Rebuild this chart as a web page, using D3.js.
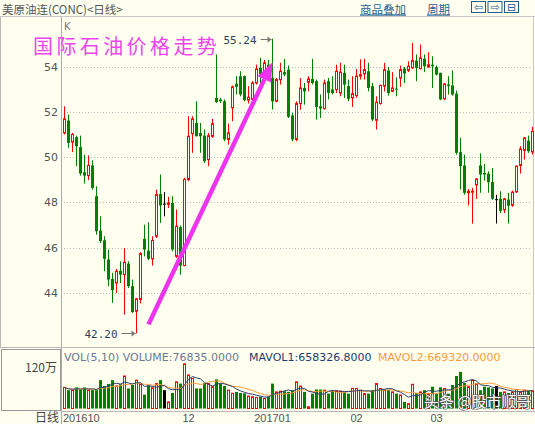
<!DOCTYPE html>
<html>
<head>
<meta charset="utf-8">
<script src="https://cdn.jsdelivr.net/npm/d3@7/dist/d3.min.js"></script>
<style>
body { margin: 0; background: #fffff0; }
svg { display: block; }
</style>
</head>
<body>
<svg width="535" height="424"></svg>
<script>
// daily bars (美原油连 CONC)
var opens = [51.07,51.62,50.66,50.88,50.44,49.33,49.18,49.63,48.27,46.75,46.32,45.47,44.61,44.43,44.96,44.80,45.29,44.29,43.18,43.70,
  46.38,45.86,45.50,46.50,48.37,47.94,47.91,47.97,45.61,46.90,45.20,49.01,51.04,51.51,51.07,50.95,49.89,50.92,52.62,52.55,
  52.47,50.78,52.18,53.25,53.58,53.58,52.52,52.55,53.28,53.95,53.65,54.09,53.50,52.47,53.43,53.76,53.87,51.84,50.78,52.37,
  53.06,53.31,53.46,53.36,52.25,52.15,53.36,52.99,52.99,52.84,53.73,53.14,52.62,52.72,53.58,53.68,53.80,53.14,51.63,52.37,
  53.14,53.83,52.91,53.03,53.50,53.92,53.84,53.95,54.27,53.92,54.35,53.99,54.09,53.98,53.73,52.58,53.21,53.17,52.81,50.22,
  49.63,48.42,48.45,48.77,49.63,49.30,49.27,48.90,48.14,48.16,47.67,48.12,47.87,48.46,49.63,50.30,50.73,50.23];
var highs = [52.25,51.88,51.07,50.95,50.95,50.11,50.07,49.86,48.71,47.38,46.50,45.91,44.88,45.05,45.39,45.98,45.39,44.58,43.77,45.79,
  47.01,47.12,46.50,48.56,49.23,48.45,48.24,48.27,47.68,46.97,49.08,51.81,51.81,52.47,51.51,51.22,51.07,51.69,54.54,52.62,
  52.55,51.48,53.17,53.58,53.80,53.61,53.14,53.36,54.09,54.39,54.30,54.30,55.24,53.50,54.17,54.35,54.05,51.96,52.47,53.50,
  53.28,53.58,54.35,53.43,52.77,53.43,53.50,53.58,54.09,54.17,54.09,53.43,53.58,53.90,54.32,54.35,54.17,53.28,52.69,53.21,
  54.17,53.99,53.76,53.53,54.05,53.99,54.24,55.05,54.54,54.98,54.54,54.64,54.46,54.05,53.73,53.28,53.58,53.84,52.94,50.85,
  50.11,48.59,48.64,49.07,50.16,49.70,49.37,49.52,48.33,48.49,48.19,48.42,48.52,49.63,50.48,50.89,50.95,51.34];
var lows = [51.00,50.41,50.22,49.60,49.18,48.83,48.98,48.56,46.57,46.20,44.95,44.29,43.55,43.99,44.43,43.03,44.21,43.11,42.20,43.52,
  45.61,45.44,45.20,46.42,47.09,47.38,47.75,45.83,45.54,44.80,45.17,48.93,50.19,50.92,50.19,49.74,49.60,50.85,52.40,52.40,
  50.70,50.55,51.59,52.77,52.69,52.47,52.37,52.47,53.21,53.21,53.50,53.40,52.10,52.43,53.21,53.58,51.73,50.70,50.70,52.10,
  52.32,52.91,53.21,51.66,51.73,52.10,52.55,52.77,52.84,52.69,52.62,52.47,52.22,52.62,53.43,53.43,52.91,51.59,51.22,52.32,
  52.91,52.72,52.87,52.69,53.11,53.28,53.76,53.90,53.36,53.87,53.76,53.95,53.06,53.61,52.52,52.52,52.77,52.72,50.11,48.56,
  48.34,47.86,47.06,48.15,48.42,48.96,48.42,48.11,47.06,47.52,47.52,47.06,47.80,48.42,49.27,49.89,50.19,50.11];
var closes = [51.69,50.63,51.00,50.48,49.27,49.18,49.63,48.64,46.72,46.28,45.50,44.58,44.11,44.95,44.80,45.35,44.29,43.14,43.73,45.73,
  45.91,45.50,46.31,48.34,47.86,47.94,47.97,45.91,46.94,45.20,49.01,50.92,51.69,50.92,50.92,49.82,50.95,51.48,52.43,52.47,
  50.78,51.07,53.11,53.11,52.77,52.52,52.65,53.28,53.90,53.65,54.17,53.58,52.47,53.43,53.80,53.65,51.78,50.78,52.37,53.06,
  52.91,53.46,53.28,52.22,52.15,53.28,52.84,52.84,53.80,53.76,53.21,52.58,52.81,53.58,53.65,53.87,53.06,51.66,52.43,53.17,
  53.87,52.84,53.06,53.00,53.87,53.70,54.02,54.27,53.95,54.39,54.02,54.09,54.02,53.65,52.55,53.24,53.14,52.77,50.19,49.60,
  48.42,48.49,48.49,49.03,49.23,49.23,48.89,48.16,48.14,47.62,48.15,47.85,48.45,49.60,50.36,50.85,50.26,51.14];
// volume in 万手
var volumes = [61,53,53,61,55,61,53,53,53,82,65,71,82,65,70,94,58,68,82,70,
  40,67,60,72,82,53,19,45,77,72,129,97,87,58,58,74,72,63,84,72,
  65,53,44,48,45,44,36,34,32,34,29,35,72,48,50,50,48,53,77,65,
  48,5,43,55,55,53,43,53,51,50,48,43,58,58,53,43,43,53,72,58,
  53,53,48,43,39,19,14,70,45,48,53,43,63,43,61,58,43,68,94,106,
  74,63,82,72,53,63,61,58,65,48,48,45,48,55,48,53,51,51];

var priceTicks = [44, 46, 48, 50, 52, 54];
var monthStart = [0, 31, 52, 73, 93];
var monthLabels = ["201610", "12", "201701", "02", "03"];

var bg = "#fffff0";
var upColor = "#ff0000", downColor = "#008000";
var svg = d3.select("svg");
var n = closes.length;

var x = d3.scaleBand().domain(d3.range(n)).range([62, 62 + 4 * n]);
function cx(i) { return Math.round(x(i) + x.bandwidth() / 2) + 0.5; }
var y = d3.scaleLinear().domain([44, 54]).range([292.7, 66.7]);
var yv = d3.scaleLinear().domain([0, 120]).range([408.5, 367]);
function crisp(v) { return Math.round(v) + 0.5; }

svg.append("rect").attr("width", 535).attr("height", 424).attr("fill", bg);

// header
svg.append("text").attr("x", 2).attr("y", 13.5)
  .attr("font-family", "Noto Sans CJK SC").attr("font-size", 11.5).attr("fill", "#555")
  .text("美原油连(CONC)<日线>");
[["商品叠加", 360], ["周期", 427]].forEach(function (d) {
  svg.append("text").attr("x", d[1]).attr("y", 13.5)
    .attr("font-family", "Noto Sans CJK SC").attr("font-size", 11.5).attr("fill", "#1f5f8f")
    .attr("text-decoration", "underline").text(d[0]);
});
["⇦", "⇨", "⊟"].forEach(function (g, k) {
  var bx = 471.5 + k * 16.5;
  svg.append("rect").attr("x", bx).attr("y", 1.5).attr("width", 14).attr("height", 11)
    .attr("fill", "none").attr("stroke", "#1f5f8f");
  svg.append("text").attr("x", bx + 7).attr("y", 11).attr("text-anchor", "middle")
    .attr("font-family", "DejaVu Sans").attr("font-size", 11).attr("fill", "#1f5f8f").text(g);
});

// frame lines
svg.append("line").attr("x1", 0).attr("x2", 535).attr("y1", 16.5).attr("y2", 16.5).attr("stroke", "#c8c8c8");
svg.append("line").attr("x1", 0.5).attr("x2", 0.5).attr("y1", 17).attr("y2", 348).attr("stroke", "#b8b8b8");
svg.append("line").attr("x1", 61.5).attr("x2", 61.5).attr("y1", 17).attr("y2", 424).attr("stroke", "#aaa");
svg.append("line").attr("x1", 533.5).attr("x2", 533.5).attr("y1", 17).attr("y2", 412).attr("stroke", "#c8c8c8");
svg.append("line").attr("x1", 0).attr("x2", 535).attr("y1", 347.5).attr("y2", 347.5).attr("stroke", "#b8b8b8");
svg.append("line").attr("x1", 62).attr("x2", 535).attr("y1", 411.5).attr("y2", 411.5).attr("stroke", "#b8b8b8");
svg.append("rect").attr("x", 1.5).attr("y", 349.5).attr("width", 59).attr("height", 61)
  .attr("fill", "none").attr("stroke", "#999");

svg.append("text").attr("x", 64).attr("y", 30).attr("font-family", "DejaVu Sans")
  .attr("font-size", 10).attr("fill", "#777").text("K");

// price grid + labels
svg.append("g").selectAll("line").data(priceTicks).enter().append("line")
  .attr("x1", 64).attr("x2", 532)
  .attr("y1", function (d) { return crisp(y(d)); }).attr("y2", function (d) { return crisp(y(d)); })
  .attr("stroke", "#bbb").attr("stroke-dasharray", "1,2");
svg.append("g").selectAll("text").data(priceTicks).enter().append("text")
  .attr("x", 58).attr("y", function (d) { return y(d) + 4; })
  .attr("text-anchor", "end").attr("font-family", "DejaVu Sans").attr("font-size", 11)
  .attr("fill", "#555").text(function (d) { return d; });

function barColor(i) {
  if (closes[i] > opens[i]) return upColor;
  if (closes[i] < opens[i]) return downColor;
  return "#000";
}

// candles
var candle = svg.append("g").selectAll("g").data(d3.range(n)).enter().append("g");
candle.append("line")
  .attr("x1", cx).attr("x2", cx)
  .attr("y1", function (i) { return y(highs[i]); })
  .attr("y2", function (i) { return y(lows[i]); })
  .attr("stroke", barColor);
candle.append("rect")
  .attr("x", function (i) { return closes[i] > opens[i] ? cx(i) - 1 : cx(i) - 1.5; })
  .attr("width", function (i) { return closes[i] > opens[i] ? 2 : 3; })
  .attr("y", function (i) { return y(Math.max(opens[i], closes[i])); })
  .attr("height", function (i) { return Math.max(1, Math.abs(y(opens[i]) - y(closes[i]))); })
  .attr("fill", function (i) { return closes[i] > opens[i] ? bg : barColor(i); })
  .attr("stroke", function (i) { return closes[i] > opens[i] ? upColor : "none"; });

// high / low markers
var iHi = d3.maxIndex(highs), iLo = d3.minIndex(lows);
function marker(i, v, tx) {
  var yy = crisp(y(v));
  svg.append("text").attr("x", tx).attr("y", yy + 4)
    .attr("font-family", "DejaVu Sans Mono").attr("font-size", 11).attr("fill", "#2a3f5f")
    .text(v.toFixed(2));
  svg.append("line").attr("x1", tx + 37).attr("x2", cx(i) - 1).attr("y1", yy).attr("y2", yy).attr("stroke", "#777");
  svg.append("path").attr("d", "M" + (cx(i) - 1) + "," + yy + "l-4,-3v6z").attr("fill", "#777");
}
marker(iHi, highs[iHi], cx(iHi) - 49);
marker(iLo, lows[iLo], cx(iLo) - 52);

// magenta trend arrow
var ax0 = cx(21), ay0 = y(42.6), ax1 = cx(52), ay1 = y(54.2);
var ang = Math.atan2(ay1 - ay0, ax1 - ax0);
var hl = 19, hw = 7.5;
var bx0 = ax1 - hl * Math.cos(ang), by0 = ay1 - hl * Math.sin(ang);
svg.append("line").attr("x1", ax0).attr("y1", ay0).attr("x2", bx0).attr("y2", by0)
  .attr("stroke", "#ee33ee").attr("stroke-width", 4.5);
svg.append("path")
  .attr("d", "M" + ax1 + "," + ay1 +
    "L" + (bx0 + hw * Math.sin(ang)) + "," + (by0 - hw * Math.cos(ang)) +
    "L" + (bx0 - hw * Math.sin(ang)) + "," + (by0 + hw * Math.cos(ang)) + "Z")
  .attr("fill", "#ee33ee");

// title
svg.append("text").attr("x", 33).attr("y", 54)
  .attr("font-family", "Noto Sans CJK SC").attr("font-size", 20).attr("letter-spacing", 3.4)
  .attr("fill", "#ee44ee").text("国际石油价格走势");

// volume panel
svg.append("text").attr("x", 57).attr("y", 372).attr("text-anchor", "end")
  .attr("font-family", "Noto Sans CJK SC").attr("font-size", 12).attr("fill", "#444").text("120万");

svg.append("g").selectAll("rect").data(d3.range(n)).enter().append("rect")
  .attr("x", function (i) { return closes[i] > opens[i] ? cx(i) - 1 : cx(i) - 1.5; })
  .attr("width", function (i) { return closes[i] > opens[i] ? 2 : 3; })
  .attr("y", function (i) { return yv(volumes[i]); })
  .attr("height", function (i) { return yv(0) - yv(volumes[i]); })
  .attr("fill", function (i) { return closes[i] > opens[i] ? bg : barColor(i); })
  .attr("stroke", function (i) { return closes[i] > opens[i] ? upColor : "none"; });

function movAvg(k) {
  return d3.range(n).map(function (i) { return d3.mean(volumes.slice(Math.max(0, i - k + 1), i + 1)); });
}
var ma5 = movAvg(5), ma10 = movAvg(10);
var vline = d3.line().x(function (d, i) { return cx(i); }).y(function (d) { return yv(d); });
svg.append("path").datum(ma10).attr("d", vline).attr("fill", "none").attr("stroke", "#ff9933").attr("stroke-width", 1);
svg.append("path").datum(ma5).attr("d", vline).attr("fill", "none").attr("stroke", "#2b3f6a").attr("stroke-width", 1);

var vt = svg.append("text").attr("y", 361).attr("font-family", "DejaVu Sans").attr("font-size", 11);
vt.append("tspan").attr("x", 64).attr("fill", "#6a7a90").text("VOL(5,10) VOLUME:76835.0000");
vt.append("tspan").attr("x", 249).attr("fill", "#1c3b6e").text("MAVOL1:658326.8000");
vt.append("tspan").attr("x", 378).attr("fill", "#ff9a3c").text("MAVOL2:669320.0000");

// month labels
svg.append("text").attr("x", 35).attr("y", 422).attr("font-family", "Noto Sans CJK SC")
  .attr("font-size", 12).attr("fill", "#444").text("日线");
svg.append("g").selectAll("text").data(monthStart).enter().append("text")
  .attr("x", function (d, k) { return k === 0 ? 63 : cx(d); })
  .attr("text-anchor", function (d, k) { return k === 0 ? "start" : "middle"; })
  .attr("y", 422).attr("font-family", "Liberation Sans").attr("font-size", 11).attr("fill", "#555")
  .text(function (d, k) { return monthLabels[k]; });

// watermark
svg.append("text").attr("x", 424).attr("y", 407)
  .attr("font-family", "Noto Sans CJK SC").attr("font-size", 15)
  .attr("fill", "#fff").attr("stroke", "#555").attr("stroke-width", 1.2).attr("paint-order", "stroke")
  .text("头条 @股市顺哥");
</script>
</body>
</html>
